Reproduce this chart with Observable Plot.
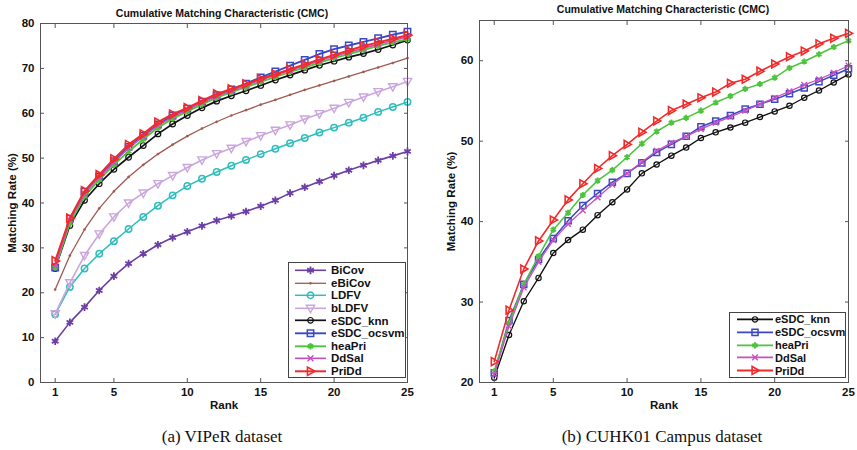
<!DOCTYPE html>
<html><head><meta charset="utf-8">
<script src="https://cdn.jsdelivr.net/npm/d3@7"></script>
<script src="https://cdn.jsdelivr.net/npm/@observablehq/plot@0.6"></script>
<style>
body{margin:0;background:#fff;}
#wrap{position:relative;width:857px;height:450px;overflow:hidden;font-family:"Liberation Sans",Arial,sans-serif;background:#fff;}
.panel{position:absolute;top:0;}
.title{position:absolute;font-size:10.5px;font-weight:bold;white-space:nowrap;transform:translateX(-50%);color:#111;}
.caption{position:absolute;font-family:"Liberation Serif","Times New Roman",serif;font-size:17px;white-space:nowrap;transform:translateX(-50%);color:#111;}
.legend{position:absolute;border:1px solid #444;background:#fff;font-weight:bold;color:#111;box-sizing:border-box;}
.legend .row{display:flex;align-items:center;white-space:nowrap;}
.legend svg{display:block;flex:none;}
</style></head><body><div id="wrap"></div>
<script>
// ---------- data ----------
const ranks = [1,2,3,4,5,6,7,8,9,10,11,12,13,14,15,16,17,18,19,20,21,22,23,24,25];
const xTicks = [1,5,10,15,20,25];
const viperYTicks = [0,10,20,30,40,50,60,70,80];
const cuhkYTicks = [20,30,40,50,60];

const viperSeries = ["BiCov","eBiCov","LDFV","bLDFV","eSDC_knn","eSDC_ocsvm","heaPri","DdSal","PriDd"];
const viperBiCov  = [9.2,13.4,16.8,20.5,23.7,26.5,28.7,30.7,32.3,33.6,34.9,36.1,37.1,38.1,39.3,40.6,42.2,43.5,44.8,46.1,47.3,48.4,49.5,50.5,51.5];
const viperEBiCov = [20.7,28.3,34.1,38.8,42.6,45.8,48.5,50.9,53.0,54.9,56.6,58.1,59.5,60.7,61.9,63.0,64.1,65.2,66.2,67.2,68.2,69.2,70.2,71.2,72.3];
const viperLDFV   = [15.2,21.3,25.4,28.7,31.5,34.2,36.9,39.4,41.7,43.8,45.4,46.9,48.3,49.6,50.9,52.1,53.3,54.5,55.7,56.8,57.9,59.0,60.3,61.4,62.5];
const viperBLDFV  = [15.3,22.2,28.3,33.1,36.9,40.0,42.2,44.3,46.1,47.9,49.6,51.0,52.2,53.7,55.0,56.2,57.4,58.7,59.9,61.1,62.4,63.6,64.8,65.9,67.1];
const viperKnn    = [25.4,35.0,40.6,44.3,47.5,50.2,52.8,55.4,57.6,59.5,61.2,62.7,63.9,65.0,66.2,67.4,68.5,69.6,70.7,71.6,72.5,73.3,74.2,75.2,76.3];
const viperOcsvm  = [25.6,36.5,42.5,45.9,49.3,52.5,55.0,57.5,59.5,61.0,62.6,64.0,65.3,66.6,68.0,69.3,70.6,71.9,73.2,74.3,75.1,75.9,76.7,77.5,78.2];
const viperHeaPri = [25.6,35.5,41.5,45.2,48.5,51.5,54.2,56.8,58.8,60.4,62.0,63.5,64.7,65.8,67.0,68.1,69.2,70.2,71.3,72.3,73.2,74.1,75.0,75.8,76.5];
const viperDdSal  = [26.0,36.2,42.0,45.8,49.0,52.3,54.8,57.3,59.2,60.8,62.4,63.8,65.0,66.2,67.4,68.5,69.6,70.6,71.7,72.7,73.6,74.5,75.4,76.2,77.0];
const viperPriDd  = [27.1,36.6,42.7,46.3,49.8,53.0,55.4,58.0,59.8,61.2,62.8,64.3,65.4,66.5,67.7,68.7,69.8,70.9,72.0,73.0,74.0,75.0,75.8,76.6,77.4];

const cuhkSeries = ["eSDC_knn","eSDC_ocsvm","heaPri","DdSal","PriDd"];
const cuhkKnn    = [20.6,25.9,30.1,33.0,36.1,37.7,39.0,40.8,42.4,44.0,46.0,47.1,48.2,49.2,50.4,51.1,51.7,52.3,53.0,53.7,54.4,55.4,56.3,57.3,58.3];
const cuhkOcsvm  = [21.2,27.7,32.2,35.3,37.9,40.1,42.0,43.5,44.9,46.0,47.3,48.6,49.6,50.6,51.8,52.5,53.2,54.0,54.6,55.2,55.9,56.6,57.4,58.2,59.0];
const cuhkHeaPri = [21.4,27.4,32.2,35.7,39.0,41.1,43.3,45.1,46.4,48.0,49.7,51.2,52.3,52.9,53.8,54.8,55.6,56.5,57.1,57.9,59.1,59.9,60.8,61.7,62.5];
const cuhkDdSal  = [21.0,27.0,31.8,35.0,37.7,39.7,41.4,43.0,44.6,46.0,47.4,48.8,49.8,50.6,51.5,52.3,53.0,53.8,54.6,55.4,56.2,57.0,57.7,58.5,59.4];
const cuhkPriDd  = [22.6,29.0,34.1,37.6,40.2,42.7,44.7,46.6,48.2,49.6,51.1,52.5,53.8,54.6,55.4,56.1,57.2,57.7,58.7,59.6,60.5,61.2,62.1,62.8,63.4];

const viperValues = [viperBiCov,viperEBiCov,viperLDFV,viperBLDFV,viperKnn,viperOcsvm,viperHeaPri,viperDdSal,viperPriDd];
const cuhkValues = [cuhkKnn,cuhkOcsvm,cuhkHeaPri,cuhkDdSal,cuhkPriDd];

// ---------- styles ----------
const triRight = {draw(c, size){ const r = Math.sqrt(size/Math.PI)*1.15; c.moveTo(r,0); c.lineTo(-r*0.7,-r*0.95); c.lineTo(-r*0.7,r*0.95); c.closePath(); }};
const triDown = {draw(c, size){ const r = Math.sqrt(size/Math.PI)*1.15; c.moveTo(0,r); c.lineTo(-r*0.95,-r*0.7); c.lineTo(r*0.95,-r*0.7); c.closePath(); }};
const styles = {
  "BiCov":      {color:"#6b3fa6", symbol:d3.symbolAsterisk, r:3.6, sw:1.6, msw:1.8, fill:"none"},
  "eBiCov":     {color:"#a05a50", symbol:d3.symbolCircle, r:1.1, sw:1.3, msw:0.5, fill:"#a05a50"},
  "LDFV":       {color:"#2fbdbd", symbol:d3.symbolCircle, r:3.2, sw:1.5, msw:1.5, fill:"none"},
  "bLDFV":      {color:"#caa6dc", symbol:triDown, r:3.8, sw:1.6, msw:1.4, fill:"none"},
  "eSDC_knn":   {color:"#111111", symbol:d3.symbolCircle, r:2.8, sw:1.7, msw:1.2, fill:"none"},
  "eSDC_ocsvm": {color:"#3b48c4", symbol:d3.symbolSquare, r:3.6, sw:1.9, msw:1.5, fill:"none"},
  "heaPri":     {color:"#4cc43c", symbol:d3.symbolAsterisk, r:3.0, sw:1.9, msw:2.0, fill:"none"},
  "DdSal":      {color:"#c84fc0", symbol:d3.symbolTimes, r:2.8, sw:1.6, msw:1.4, fill:"none"},
  "PriDd":      {color:"#f22a2a", symbol:triRight, r:3.8, sw:2.0, msw:1.6, fill:"none"}
};

function rowsFor(name, values){ return ranks.map((rk,i)=>({rank:rk, value:values[i], series:name})); }

function makePanel({series, values, yDomain, yTicks, width, height, mt, mb, ml, mr, lineScale, markerScale, yLabelOffset}){
  const marks = [];
  series.forEach((name,i)=>{
    const s = styles[name];
    const rows = rowsFor(name, values[i]);
    marks.push(Plot.line(rows, {x:"rank", y:"value", stroke:s.color, strokeWidth:s.sw*lineScale}));
    marks.push(Plot.dot(rows, {x:"rank", y:"value", symbol:s.symbol, r:s.r*markerScale, stroke:s.color, fill:s.fill, strokeWidth:s.msw}));
  });
  return Plot.plot({
    width, height, marginTop:mt, marginBottom:mb, marginLeft:ml, marginRight:mr,
    style:{fontFamily:"'Liberation Sans', Arial, sans-serif", fontSize:"11px", fontWeight:"bold", background:"transparent", color:"#111"},
    x:{domain:[0,25]},
    y:{domain:yDomain},
    marks:[
      ...marks,
      Plot.frame({stroke:"#555", strokeWidth:1}),
      Plot.axisX({ticks:xTicks, tickSize:0, tickPadding:5, label:"Rank", labelAnchor:"center", labelOffset:26, labelArrow:"none", fontSize:11.5}),
      Plot.axisX({ticks:xTicks, tickSize:-4, tickFormat:()=>"", label:null, stroke:"#555"}),
      Plot.axisX({ticks:xTicks, anchor:"top", tickSize:-4, tickFormat:()=>"", label:null, stroke:"#555"}),
      Plot.axisY({ticks:yTicks, tickSize:0, tickPadding:6, label:"Matching Rate (%)", labelAnchor:"center", labelOffset:yLabelOffset, labelArrow:"none", fontSize:11.5}),
      Plot.axisY({ticks:yTicks, tickSize:-4, tickFormat:()=>"", label:null, stroke:"#555"}),
      Plot.axisY({ticks:yTicks, anchor:"right", tickSize:-4, tickFormat:()=>"", label:null, stroke:"#555"})
    ]
  });
}

function makeLegend({series, left, top, width, height, rowH, fontSize, swW, lineX0, lineX1, padTop, padLeft, markerScale}){
  const box = document.createElement("div");
  box.className = "legend";
  Object.assign(box.style, {left:left+"px", top:top+"px", width:width+"px", height:height+"px", fontSize:fontSize+"px", paddingTop:padTop+"px", paddingLeft:padLeft+"px"});
  series.forEach(name=>{
    const s = styles[name];
    const row = document.createElement("div");
    row.className = "row";
    row.style.height = rowH+"px";
    const svg = d3.create("svg").attr("width", swW).attr("height", rowH);
    svg.append("line").attr("x1",lineX0).attr("x2",lineX1).attr("y1",rowH/2).attr("y2",rowH/2).attr("stroke",s.color).attr("stroke-width",s.sw);
    const rr = s.r*markerScale;
    svg.append("path").attr("transform",`translate(${(lineX0+lineX1)/2},${rowH/2})`)
      .attr("d", d3.symbol().type(s.symbol).size(Math.PI*rr*rr)())
      .attr("stroke",s.color).attr("fill",s.fill).attr("stroke-width",s.msw);
    row.appendChild(svg.node());
    const t = document.createElement("span");
    t.textContent = name;
    row.appendChild(t);
    box.appendChild(row);
  });
  return box;
}

const wrap = document.getElementById("wrap");

// left panel
const left = makePanel({series:viperSeries, values:viperValues, yDomain:[0,80], yTicks:viperYTicks,
  width:430, height:410, mt:23, mb:28, ml:40, mr:23, lineScale:1, markerScale:1, yLabelOffset:33});
left.classList.add("panel"); left.style.left = "0px";
wrap.appendChild(left);

// right panel
const right = makePanel({series:cuhkSeries, values:cuhkValues, yDomain:[20,65], yTicks:cuhkYTicks,
  width:427, height:410, mt:20, mb:28, ml:49, mr:9, lineScale:0.8, markerScale:0.95, yLabelOffset:33});
right.classList.add("panel"); right.style.left = "430px";
wrap.appendChild(right);

function addDiv(cls, text, x, y){
  const d = document.createElement("div");
  d.className = cls; d.textContent = text;
  d.style.left = x+"px"; d.style.top = y+"px";
  wrap.appendChild(d);
}
addDiv("title","Cumulative Matching Characteristic (CMC)",222,7);
addDiv("title","Cumulative Matching Characteristic (CMC)",663,3);
addDiv("caption","(a) VIPeR dataset",222,427);
addDiv("caption","(b) CUHK01 Campus dataset",662,427);

wrap.appendChild(makeLegend({series:viperSeries, left:288, top:262, width:118, height:116, rowH:12.6, fontSize:11.5, swW:42, lineX0:6, lineX1:37, padTop:1, padLeft:0, markerScale:1}));
wrap.appendChild(makeLegend({series:cuhkSeries, left:729, top:312, width:117, height:66, rowH:12.8, fontSize:11, swW:45, lineX0:7, lineX1:43, padTop:0, padLeft:0, markerScale:0.95}));
</script></body></html>
